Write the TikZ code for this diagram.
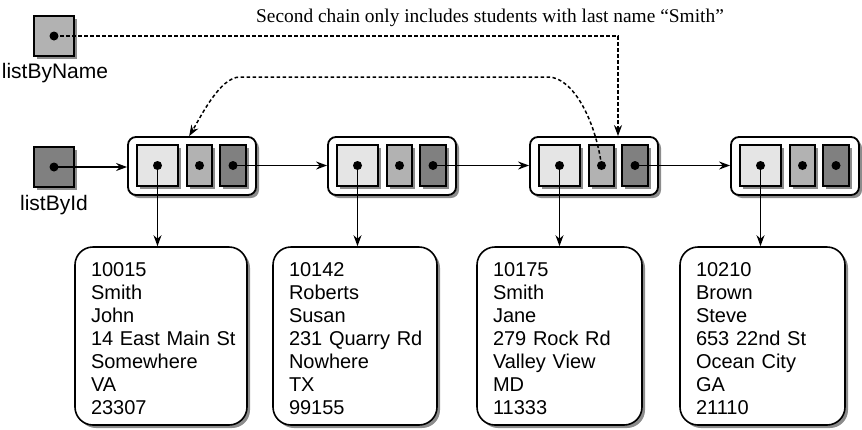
\documentclass[tikz,border=0pt]{standalone}
\usepackage{fontspec}
\setmainfont{Liberation Sans}
\newfontfamily\notefont{Liberation Serif}
\usetikzlibrary{arrows.meta,calc,shadows}

\begin{document}
\begin{tikzpicture}[x=1pt, y=-1pt,
    shade/.style={drop shadow={shadow xshift=3pt, shadow yshift=-3pt, fill=black!45, opacity=1}},
    head/.style={draw, line width=1.7pt, minimum size=40pt, inner sep=0pt, shade},
    link/.style={draw, line width=1.8pt, rounded corners=8pt, fill=white, minimum height=58pt, minimum width=128pt, inner sep=0pt, shade},
    cell/.style={draw, line width=1.7pt, minimum height=41pt, inner sep=0pt, shade},
    data/.style={draw, line width=1.6pt, rounded corners=18pt, fill=white, minimum height=178pt, inner xsep=16pt, align=left, font=\fontsize{20}{23}\selectfont, execute at begin node={\rule{0pt}{20pt}}, shade},
    lbl/.style={font=\fontsize{21}{25}\selectfont, inner sep=0pt},
    arr/.style={-{Stealth[length=11pt, width=8pt]}, line width=1.5pt},
    chain/.style={arr, dash pattern=on 3.5pt off 2.5pt}
]
\useasboundingbox (0,0) rectangle (862,429);

% list heads
\node[head, fill=black!30] (byname) at (54,36) {};
\node[lbl] (bynamelbl) at (55,73) {listByName};
\node[head, fill=black!50] (byid) at (54,167) {};
\node[lbl] (byidlbl) at (54,205) {listById};

% linked nodes
\foreach \i/\x in {1/128,2/328,3/530,4/731} {
  \node[link] (lnk\i) at (\x+64,166) {};
  \node[cell, fill=black!10, minimum width=41pt] (key\i) at (\x+29.5,165.5) {};
  \node[cell, fill=black!30, minimum width=25pt] (bn\i) at (\x+71.5,165.5) {};
  \node[cell, fill=black!50, minimum width=26pt] (bi\i) at (\x+105,165.5) {};
  \fill (key\i.center) circle[radius=4.5pt];
  \fill (bn\i.center) circle[radius=4.5pt];
  \fill (bi\i.center) circle[radius=4.5pt];
}
\fill (byname.center) circle[radius=4.5pt];
\fill (byid.center) circle[radius=4.5pt];

% records
\node[data, text width=140pt] (d1) at (161,336) {10015\\Smith\\John\\14~East~Main~St\\Somewhere\\VA\\23307};
\node[data, text width=132pt] (d2) at (355,336) {10142\\Roberts\\Susan\\231~Quarry~Rd\\Nowhere\\TX\\99155};
\node[data, text width=133pt] (d3) at (559.5,336) {10175\\Smith\\Jane\\279 Rock Rd\\Valley View\\MD\\11333};
\node[data, text width=133pt] (d4) at (762.5,336) {10210\\Brown\\Steve\\653 22nd St\\Ocean City\\GA\\21110};

\node[font=\notefont\fontsize{19.4}{23}\selectfont, inner sep=0pt] (note) at (490,18) {Second chain only includes students with last name “Smith”};

% id chain
\draw[arr] (byid.center) -- (byid.center -| lnk1.west);
\foreach \i/\j in {1/2,2/3,3/4}
  \draw[arr] (bi\i.center) -- (bi\i.center -| lnk\j.west);
\foreach \i in {1,...,4}
  \draw[arr] (key\i.center) -- (key\i.center |- d\i.north);

% name chain
\coordinate (tgt) at ($(bn3.east)!0.5!(bi3.west)$);
\coordinate (turnR) at (548,77);
\coordinate (turnL) at (240,77);
\draw[chain] (byname.center) -| (tgt |- lnk3.north);
\draw[chain] (bn3.center) .. controls +(-6,-45) and +(25,0) .. (turnR) -- (turnL)
  .. controls +(-20,0) and +(12,-20) .. ($(bn1.west |- lnk1.north)+(3,0)$);
\end{tikzpicture}
\end{document}
